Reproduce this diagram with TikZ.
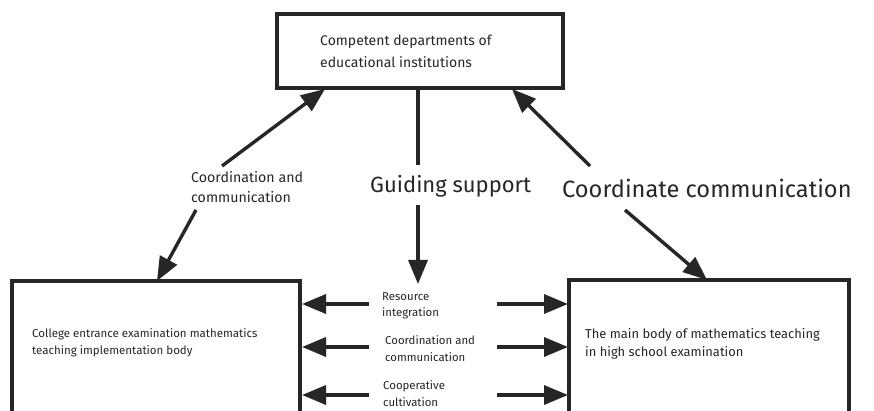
\documentclass[tikz,border=0pt]{standalone}
\usepackage{fontspec}
\setmainfont{Fira Sans}
\usetikzlibrary{arrows.meta}
\begin{document}
\begin{tikzpicture}[x=1pt,y=-1pt,
  box/.style={draw=black!85,line width=3.6pt},
  arr/.style={draw=black!85,line width=3.4pt,-{Triangle[length=24pt,width=19pt]}},
  ln/.style={draw=black!85,line width=3.4pt},
  txt/.style={inner sep=0pt,anchor=west,align=left,text=black!85}]
\useasboundingbox (0,0) rectangle (874,411);
\clip (0,0) rectangle (874,411);
\draw[box] (277,14) rectangle (563,88);
\node[txt,font=\fontsize{14}{22}\selectfont] (ttop) at (320,51) {Competent departments of\\educational institutions};
\draw[box] (12,281) rectangle (300,430);
\node[txt,font=\fontsize{11.5}{17}\selectfont] (tl) at (32,343) {College entrance examination mathematics\\teaching implementation body};
\draw[box] (569,280) rectangle (849,430);
\node[txt,font=\fontsize{12.9}{18}\selectfont] (tr) at (585,344) {The main body of mathematics teaching\\in high school examination};
% coordinates
\coordinate (tA) at (325,89);
\coordinate (lA) at (222,166);
\coordinate (lB) at (196,210);
\coordinate (bA) at (157,281);
\coordinate (tM) at (418,89);
\coordinate (mA) at (418,165);
\coordinate (mB) at (418,205);
\coordinate (bM) at (418,284);
\coordinate (tR) at (512,89);
\coordinate (rA) at (590,166);
\coordinate (rB) at (625,210);
\coordinate (bR) at (707,280);
\draw[arr] (lA) -- (tA);
\draw[arr] (lB) -- (bA);
\draw[ln] (tM) -- (mA);
\draw[arr] (mB) -- (bM);
\draw[arr] (rA) -- (tR);
\draw[arr] (rB) -- (bR);
\node[txt,font=\fontsize{14.2}{20}\selectfont] (lcc) at (191,187) {Coordination and\\communication};
\node[txt,font=\fontsize{22}{24}\selectfont] (gs) at (370,186) {Guiding support};
\node[txt,font=\fontsize{23.6}{26}\selectfont] (cc) at (562,188) {Coordinate communication};
% side arrows
\foreach \y/\n in {304/a,347/b,395/c}{
  \coordinate (L\n1) at (369,\y);
  \coordinate (L\n2) at (302,\y);
  \coordinate (R\n1) at (497,\y);
  \coordinate (R\n2) at (568,\y);
  \draw[arr] (L\n1) -- (L\n2);
  \draw[arr] (R\n1) -- (R\n2);
}
\node[txt,font=\fontsize{11.4}{16.5}\selectfont] (m1) at (382,306) {Resource\\integration};
\node[txt,font=\fontsize{11.4}{16.5}\selectfont] (m2) at (385,348.5) {Coordination and\\communication};
\node[txt,font=\fontsize{11.4}{16.5}\selectfont] (m3) at (383,393.5) {Cooperative\\cultivation};
\end{tikzpicture}
\end{document}
